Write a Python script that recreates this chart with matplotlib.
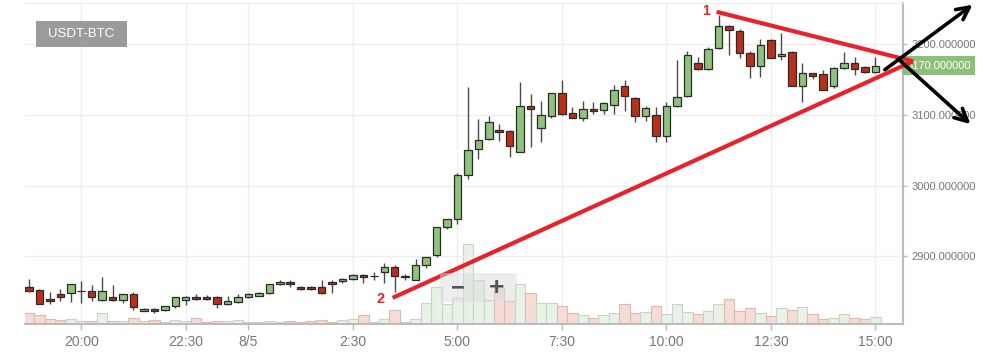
import numpy as np
import pandas as pd
import matplotlib
matplotlib.use("Agg")
import matplotlib.pyplot as plt
from matplotlib.patches import Rectangle, FancyBboxPatch

plt.rcParams['font.family'] = ['Liberation Sans', 'DejaVu Sans']

# ---------------- data ----------------
start_time = '2017-08-04 18:45'
n_candles = 82

opens = [2856, 2852, 2839, 2846, 2848, 2851, 2851, 2838, 2842, 2838,
         2846, 2823, 2825, 2824, 2829, 2838, 2842, 2842, 2842, 2832,
         2835, 2842, 2844, 2848, 2861, 2863, 2857, 2857, 2857, 2864,
         2865, 2868, 2874, 2872, 2878, 2885, 2871, 2867, 2888, 2901,
         2941, 2952, 3015, 3052, 3066, 3079, 3077, 3048, 3113, 3081,
         3099, 3131, 3103, 3096, 3109, 3107, 3114, 3141, 3124, 3098,
         3100, 3070, 3113, 3127, 3173, 3165, 3195, 3226, 3219, 3188,
         3170, 3206, 3184, 3189, 3141, 3159, 3158, 3141, 3166, 3173,
         3168, 3161]
highs = [2868, 2853, 2850, 2854, 2860, 2865, 2859, 2870, 2859, 2847,
         2849, 2826, 2826, 2829, 2842, 2843, 2847, 2845, 2843, 2844,
         2846, 2848, 2849, 2861, 2866, 2866, 2858, 2858, 2866, 2866,
         2869, 2875, 2875, 2878, 2891, 2887, 2875, 2896, 2899, 2942,
         2953, 3018, 3139, 3094, 3098, 3087, 3079, 3146, 3129, 3120,
         3131, 3149, 3111, 3120, 3118, 3118, 3142, 3150, 3125, 3112,
         3111, 3118, 3178, 3190, 3182, 3196, 3241, 3228, 3222, 3190,
         3208, 3208, 3216, 3190, 3173, 3160, 3163, 3168, 3189, 3182,
         3170, 3182]
lows = [2850, 2832, 2833, 2837, 2835, 2834, 2837, 2837, 2836, 2834,
        2824, 2822, 2820, 2823, 2826, 2831, 2838, 2838, 2826, 2831,
        2834, 2841, 2843, 2847, 2859, 2857, 2852, 2852, 2847, 2848,
        2862, 2866, 2862, 2866, 2862, 2850, 2867, 2866, 2883, 2899,
        2939, 2946, 3010, 3037, 3064, 3063, 3040, 3047, 3054, 3061,
        3095, 3100, 3095, 3091, 3101, 3101, 3102, 3105, 3090, 3091,
        3062, 3062, 3111, 3125, 3163, 3164, 3193, 3185, 3180, 3153,
        3154, 3180, 3178, 3141, 3119, 3151, 3135, 3138, 3165, 3156,
        3160, 3160]
closes = [2851, 2833, 2836, 2842, 2860, 2851, 2842, 2851, 2838, 2846,
          2828, 2825, 2822, 2829, 2842, 2842, 2839, 2839, 2832, 2836,
          2842, 2847, 2848, 2861, 2864, 2860, 2854, 2853, 2848, 2860,
          2868, 2874, 2871, 2872, 2885, 2872, 2871, 2888, 2899, 2941,
          2953, 3015, 3050, 3064, 3090, 3076, 3056, 3113, 3109, 3100,
          3131, 3101, 3096, 3109, 3105, 3117, 3136, 3127, 3098, 3110,
          3070, 3113, 3125, 3185, 3165, 3194, 3226, 3220, 3187, 3170,
          3199, 3180, 3186, 3141, 3159, 3155, 3135, 3167, 3173, 3165,
          3161, 3170]
volumes = [10.7, 9, 4.7, 3.7, 5, 3, 3, 10.7, 3, 3,
           5.7, 3, 4, 2, 4, 3.3, 6, 2, 2.7, 2.7,
           3.7, 2, 2, 2.7, 2, 2.7, 2, 3, 3.7, 2,
           4, 5.3, 8.7, 2, 4.7, 14, 2, 5.3, 20.7, 36.7,
           20, 25.7, 80, 44, 24, 37, 23, 40, 30.7, 21,
           21, 18, 10.7, 8.7, 5.7, 9, 10.7, 20, 11.3, 11.7,
           18, 10, 20, 11.7, 10, 13, 20, 24.7, 13, 15.7,
           10.7, 8.3, 15.7, 14, 16.7, 9.7, 4.7, 6.3, 10, 6.3,
           5, 7.3]

tick_times = ['2017-08-04 20:00', '2017-08-04 22:30', '2017-08-05 00:00',
              '2017-08-05 02:30', '2017-08-05 05:00', '2017-08-05 07:30',
              '2017-08-05 10:00', '2017-08-05 12:30', '2017-08-05 15:00']
price_ticks = [2900, 3000, 3100, 3200]
last_price = 3170
pair_name = 'USDT-BTC'

# annotation (trend lines / arrows) in (candle index, price)
line1_x, line1_y = [65.8, 84.6], [3246, 3176]
line2_x, line2_y = [34.8, 84.6], [2841, 3176]
arrow_up = [(81.9, 3164), (90.3, 3256)]
arrow_down = [(83.2, 3179), (90.1, 3087)]
label1_pos = (65.2, 3247)
label2_pos = (34.0, 2839)

# ---------------- figure ----------------
W, H = 1000, 353
fig = plt.figure(figsize=(W / 100, H / 100), dpi=100)
rect = [25 / W, 1 - 324 / H, 878 / W, 321 / H]
ax_vol = fig.add_axes(rect)
ax = fig.add_axes(rect)
ax.patch.set_alpha(0)

times = pd.date_range(start_time, periods=n_candles, freq='15min')
x = np.arange(n_candles)
o = np.array(opens, float)
h = np.array(highs, float)
l = np.array(lows, float)
c = np.array(closes, float)
up = c >= o

xlim = (-0.38, 83.64)
ylim = (2804, 3258.5)

# volume + grid
ax_vol.set_xlim(*xlim)
ax_vol.set_ylim(0, 321)
tick_idx = [times.get_loc(pd.Timestamp(t)) for t in tick_times]
for ti in tick_idx:
    ax_vol.axvline(ti, color='#eeeeee', lw=1, zorder=0)
vol_face = np.where(up, '#e9f2e7', '#f6dcd7')
vol_edge = np.where(up, '#c6d6c2', '#e3b8b0')
ax_vol.bar(x, volumes, width=1.0, color=vol_face, edgecolor=vol_edge,
           linewidth=0.8, zorder=2)
ax_vol.axis('off')

# price axis
ax.set_xlim(*xlim)
ax.set_ylim(*ylim)
for p in price_ticks:
    ax.axhline(p, color='#eeeeee', lw=1, zorder=0)

ax.vlines(x, l, h, color='#4a4a4a', lw=1, zorder=3)
body_bottom = np.minimum(o, c)
body_h = np.maximum(np.abs(c - o), 0.3)
body_col = np.where(up, '#8fc27c', '#b8301a')
ax.bar(x, body_h, bottom=body_bottom, width=0.72, color=body_col,
       edgecolor='#2a2a2a', linewidth=0.9, zorder=4)

ax.set_xticks(tick_idx)
ax.set_xticklabels(['8/5' if (times[i].hour == 0 and times[i].minute == 0)
                    else f'{times[i].hour}:{times[i].minute:02d}'
                    for i in tick_idx])
ax.yaxis.tick_right()
ax.set_yticks(price_ticks)
ax.set_yticklabels([f'{p:.6f}' for p in price_ticks])
ax.tick_params(axis='x', colors='#bbbbbb', labelcolor='#777777', labelsize=10,
               length=4, width=1, pad=4)
ax.tick_params(axis='y', colors='#bbbbbb', labelcolor='#777777', labelsize=8,
               length=3, width=1, pad=3)
ax.spines['left'].set_visible(False)
ax.spines['top'].set_color('#eeeeee')
ax.spines['right'].set_color('#bbbbbb')
ax.spines['right'].set_linewidth(1.5)
ax.spines['bottom'].set_color('#bbbbbb')
ax.spines['bottom'].set_linewidth(1.5)

# last price label
ax.annotate(f'{last_price:.6f}', xy=(1.0, last_price),
            xycoords=('axes fraction', 'data'), xytext=(2.5, 0),
            textcoords='offset points', ha='left', va='center',
            fontsize=8, color='white', annotation_clip=False,
            bbox=dict(boxstyle='square,pad=0.4', fc='#8cc07a', ec='none'),
            zorder=6)

# pair label
fig.add_artist(Rectangle((36 / W, 1 - 47 / H), 91 / W, 26 / H,
                         transform=fig.transFigure, fc='#9b9b9b', ec='none'))
fig.text(81.5 / W, 1 - 34 / H, pair_name, ha='center', va='center',
         fontsize=9.5, color='white')

# zoom buttons
fig.add_artist(FancyBboxPatch((440 / W, 1 - 302 / H), 77 / W, 29 / H,
                              boxstyle='round,pad=0,rounding_size=0.004',
                              transform=fig.transFigure, fc='#d9d9d9',
                              ec='none', alpha=0.45, zorder=5))
fig.text(458 / W, 1 - 288 / H, '−', ha='center', va='center', fontsize=17,
         fontweight='bold', color='#555555', zorder=6)
fig.text(497 / W, 1 - 288 / H, '+', ha='center', va='center', fontsize=19,
         fontweight='bold', color='#555555', zorder=6)

# trend lines
red = '#e8222b'
ax.plot(line1_x, line1_y, color=red, lw=3, solid_capstyle='butt',
        clip_on=False, zorder=7)
ax.plot(line2_x, line2_y, color=red, lw=3, solid_capstyle='butt',
        clip_on=False, zorder=7)
ax.text(*label1_pos, '1', color=red, fontsize=10, fontweight='bold',
        ha='right', va='center', clip_on=False, zorder=7)
ax.text(*label2_pos, '2', color=red, fontsize=10.5, fontweight='bold',
        ha='right', va='center', clip_on=False, zorder=7)

for (x0, y0), (x1, y1) in [arrow_up, arrow_down]:
    ax.annotate('', xy=(x1, y1), xytext=(x0, y0), xycoords='data',
                annotation_clip=False, zorder=8,
                arrowprops=dict(arrowstyle='->,head_length=0.9,head_width=0.45',
                                color='black', lw=2.6, shrinkA=0, shrinkB=0))

fig.savefig('out.png', dpi=100)
